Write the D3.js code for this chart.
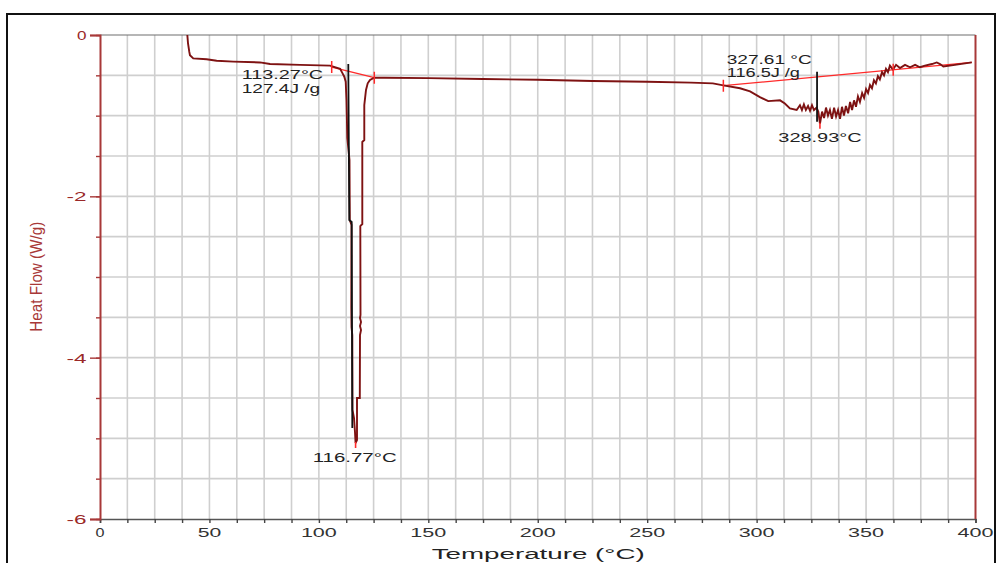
<!DOCTYPE html>
<html>
<head>
<meta charset="utf-8">
<script src="https://cdn.jsdelivr.net/npm/d3@7/dist/d3.min.js"></script>
<style>
  html, body { margin: 0; padding: 0; background: #fff; }
  svg { display: block; font-family: "Liberation Sans", Arial, sans-serif; }
</style>
</head>
<body>
<svg id="chart" width="997" height="563"></svg>
<script>
// DSC thermogram: heat flow vs temperature
const temperature = [
  39.9, 40.2, 40.8, 41.1, 42.6, 48.7, 53.3, 60.9, 73.1, 77.7, 91.4, 105.1, 109.7, 110.7,
  111.62, 112.26, 112.62, 112.99, 113.99, 114.13, 114.91, 114.81, 114.91, 115.27, 115.36,
  116.05, 116.5, 116.77, 117.42, 117.42, 118.7, 118.79, 119.25, 118.79, 119.25, 118.79,
  119.02, 118.93, 119.84, 119.84, 120.75, 120.75, 121.53, 122.31, 123.36, 125.32,
  130, 150, 175, 200, 225, 250, 270, 280,
  284.8, 292.4, 297.0, 301.5, 305.3, 310.7, 312.9, 315.2, 318.3, 319.8, 320.7, 321.6,
  322.5, 323.5, 324.4, 325.3, 326.2, 327.4, 328.2, 328.93, 329.9, 330.8, 331.7, 332.6,
  333.5, 334.4, 335.4, 336.3, 337.2, 338.1, 339.0, 339.9, 340.8, 341.8, 342.7, 343.6,
  344.5, 345.4, 346.3, 347.2, 348.2, 349.1, 350.0, 350.9, 351.8, 352.7, 353.6, 354.5,
  355.4, 356.3, 357.3, 358.2, 359.1, 360.0, 360.9, 362.3, 363.7, 365.5, 367.8, 370.1,
  372.4, 374.6, 376.9, 380.1, 382.3, 383.8, 385.3, 390.6, 398.3
];
const heatFlow = [
  0.0, -0.10, -0.21, -0.25, -0.29, -0.30, -0.32, -0.33, -0.34, -0.36, -0.37, -0.38, -0.42, -0.47,
  -0.517, -0.579, -0.806, -1.276, -1.549, -2.293, -2.355, -3.372, -3.62, -3.719, -4.649,
  -4.748, -4.922, -5.058, -5.021, -4.5, -4.5, -3.719, -3.657, -3.607, -3.558, -3.508,
  -3.471, -2.368, -2.343, -1.326, -1.302, -0.868, -0.682, -0.599, -0.558, -0.529,
  -0.53, -0.535, -0.545, -0.555, -0.57, -0.58, -0.59, -0.60,
  -0.625, -0.66, -0.70, -0.77, -0.82, -0.81, -0.85, -0.91, -0.93, -0.87, -0.93, -0.86,
  -0.93, -0.88, -0.94, -0.87, -0.93, -0.90, -0.95, -1.10, -0.95, -1.03, -0.90, -1.00,
  -0.93, -1.04, -0.90, -1.01, -0.93, -1.04, -0.89, -1.00, -0.88, -0.97, -0.83, -0.93,
  -0.81, -0.89, -0.76, -0.83, -0.72, -0.78, -0.67, -0.72, -0.62, -0.66, -0.56, -0.60,
  -0.51, -0.55, -0.46, -0.50, -0.42, -0.46, -0.38, -0.43, -0.37, -0.41, -0.37, -0.40,
  -0.37, -0.40, -0.38, -0.36, -0.34, -0.36, -0.39, -0.37, -0.34
];

// integration baselines (start / end) for the two events
const baselineT = [[105.86, 125.32], [284.8, 398.3]];
const baselineH = [[-0.397, -0.529], [-0.628, -0.34]];
const baselineMarksT = [105.86, 125.32, 284.8, 362.4];
const baselineMarksH = [-0.397, -0.529, -0.628, -0.431];

// onset construction lines
const onsetT = [[113.44, 113.90, 115.00, 115.27], [327.61, 327.61]];
const onsetH = [[-0.36, -2.293, -2.318, -4.872], [-0.455, -1.075]];

// peak maxima
const peakT = [116.77, 328.93];
const peakH = [-5.058, -1.10];

const xTicks = [0, 50, 100, 150, 200, 250, 300, 350, 400];
const yTicks = [0, -2, -4, -6];
const yTickText = ["0", "-2", "-4", "-6"];

const annotations = [
  "113.27°C", "127.4J /g", "116.77°C",
  "327.61 °C", "116.5J /g", "328.93°C"
];

const svg = d3.select("#chart");
const x = d3.scaleLinear().domain([0, 400]).range([100, 975.5]);
const y = d3.scaleLinear().domain([-6, 0]).range([519, 35]);

const curveRed = "#7e1212";
const axisRed = "#a83838";
const markRed = "#ff2a2a";

// outer frame
svg.append("rect").attr("x", 7).attr("y", 14).attr("width", 988).attr("height", 600)
  .attr("fill", "none").attr("stroke", "#111").attr("stroke-width", 2);

// grid
const grid = svg.append("g");
grid.selectAll("line.v").data(d3.range(12.5, 400, 12.5)).join("line")
  .attr("x1", d => x(d)).attr("x2", d => x(d)).attr("y1", y(0)).attr("y2", y(-6))
  .attr("stroke", "#cfcfcf").attr("stroke-width", 1.6);
grid.selectAll("line.h").data(d3.range(-0.5, -6, -0.5)).join("line")
  .attr("x1", x(0)).attr("x2", x(400)).attr("y1", d => y(d)).attr("y2", d => y(d))
  .attr("stroke", "#cfcfcf").attr("stroke-width", 1.6);

// top border
svg.append("line").attr("x1", x(0)).attr("x2", x(400)).attr("y1", y(0)).attr("y2", y(0))
  .attr("stroke", "#6e6e6e").attr("stroke-width", 1.2);

// x axis
const xAxis = d3.axisBottom(x).tickValues(d3.range(0, 400.1, 12.5)).tickSize(4).tickFormat("");
const gx = svg.append("g").attr("transform", `translate(0,${y(-6)})`).call(xAxis);
gx.select(".domain").attr("stroke", "#555").attr("stroke-width", 1.6);
gx.selectAll(".tick line").attr("stroke", "#444").attr("stroke-width", 1.4);

// y axis (minor + major ticks)
const yMinor = d3.axisLeft(y).tickValues(d3.range(0, -6.01, -0.5)).tickSize(4).tickFormat("");
const gyMinor = svg.append("g").attr("transform", `translate(${x(0)},0)`).call(yMinor);
gyMinor.select(".domain").remove();
gyMinor.selectAll(".tick line").attr("stroke", axisRed).attr("stroke-width", 1.4);
const yMajor = d3.axisLeft(y).tickValues(yTicks).tickSize(10).tickFormat("");
const gy = svg.append("g").attr("transform", `translate(${x(0)},0)`).call(yMajor);
gy.select(".domain").attr("stroke", axisRed).attr("stroke-width", 2);
gy.selectAll(".tick line").attr("stroke", axisRed).attr("stroke-width", 1.4);

// right border
svg.append("line").attr("x1", x(400)).attr("x2", x(400)).attr("y1", y(0)).attr("y2", y(-6))
  .attr("stroke", axisRed).attr("stroke-width", 2);

// stretched text helper
function label(txt, x0, base, size, len, fill) {
  return svg.append("text").attr("x", x0).attr("y", base)
    .attr("font-size", size).attr("fill", fill)
    .attr("textLength", len).attr("lengthAdjust", "spacingAndGlyphs")
    .text(txt);
}

// x tick labels
const xLen = s => s.length === 1 ? 9 : s.length === 2 ? 23.5 : 36;
xTicks.forEach(t => {
  const s = String(t);
  label(s, x(t) - xLen(s) / 2, 537, 12.5, xLen(s), "#333");
});

// y tick labels
yTicks.forEach((t, i) => {
  const s = yTickText[i];
  const len = s.length === 1 ? 9.5 : 20;
  label(s, 86.5 - len, y(t) + 5, 12.5, len, "#9a2828");
});

// axis titles
label("Temperature (°C)", 431.7, 559, 15.5, 213, "#222");
svg.append("text")
  .attr("transform", `translate(41.5,331.7) rotate(-90)`)
  .attr("font-size", 16.5).attr("fill", axisRed)
  .attr("textLength", 110).attr("lengthAdjust", "spacingAndGlyphs")
  .text("Heat Flow (W/g)");

// data trace
const clip = svg.append("clipPath").attr("id", "plotClip")
  .append("rect").attr("x", x(0)).attr("y", y(0)).attr("width", x(400) - x(0)).attr("height", y(-6) - y(0));
const pts = temperature.map((t, i) => [t, heatFlow[i]]);
const line = d3.line().x(d => x(d[0])).y(d => y(d[1]));
const plot = svg.append("g").attr("clip-path", "url(#plotClip)");

// baselines
baselineT.forEach((seg, i) => {
  plot.append("line")
    .attr("x1", x(seg[0])).attr("y1", y(baselineH[i][0]))
    .attr("x2", x(seg[1])).attr("y2", y(baselineH[i][1]))
    .attr("stroke", markRed).attr("stroke-width", 1.3);
});

plot.append("path").datum(pts).attr("d", line)
  .attr("fill", "none").attr("stroke", curveRed).attr("stroke-width", 1.9)
  .attr("stroke-linejoin", "miter");

// onset lines
onsetT.forEach((ts, i) => {
  plot.append("path").datum(ts.map((t, j) => [t, onsetH[i][j]])).attr("d", line)
    .attr("fill", "none").attr("stroke", "#111").attr("stroke-width", 1.8);
});

// baseline end marks
baselineMarksT.forEach((t, i) => {
  plot.append("line").attr("x1", x(t)).attr("x2", x(t))
    .attr("y1", y(baselineMarksH[i]) - 6).attr("y2", y(baselineMarksH[i]) + 6)
    .attr("stroke", markRed).attr("stroke-width", 1.5);
});

// peak marks
peakT.forEach((t, i) => {
  plot.append("line").attr("x1", x(t)).attr("x2", x(t))
    .attr("y1", y(peakH[i]) - 1).attr("y2", y(peakH[i]) + 5)
    .attr("stroke", markRed).attr("stroke-width", 1.6);
});

// annotation labels
const annPos = [
  [241.7, 79, 81.5], [241.7, 93, 78.5], [312.7, 461.7, 84],
  [726.7, 63.5, 85], [726.7, 77, 73.3], [778.3, 141.7, 83.4]
];
annotations.forEach((s, i) => {
  label(s, annPos[i][0], annPos[i][1], 12.5, annPos[i][2], "#222");
});
</script>
</body>
</html>
